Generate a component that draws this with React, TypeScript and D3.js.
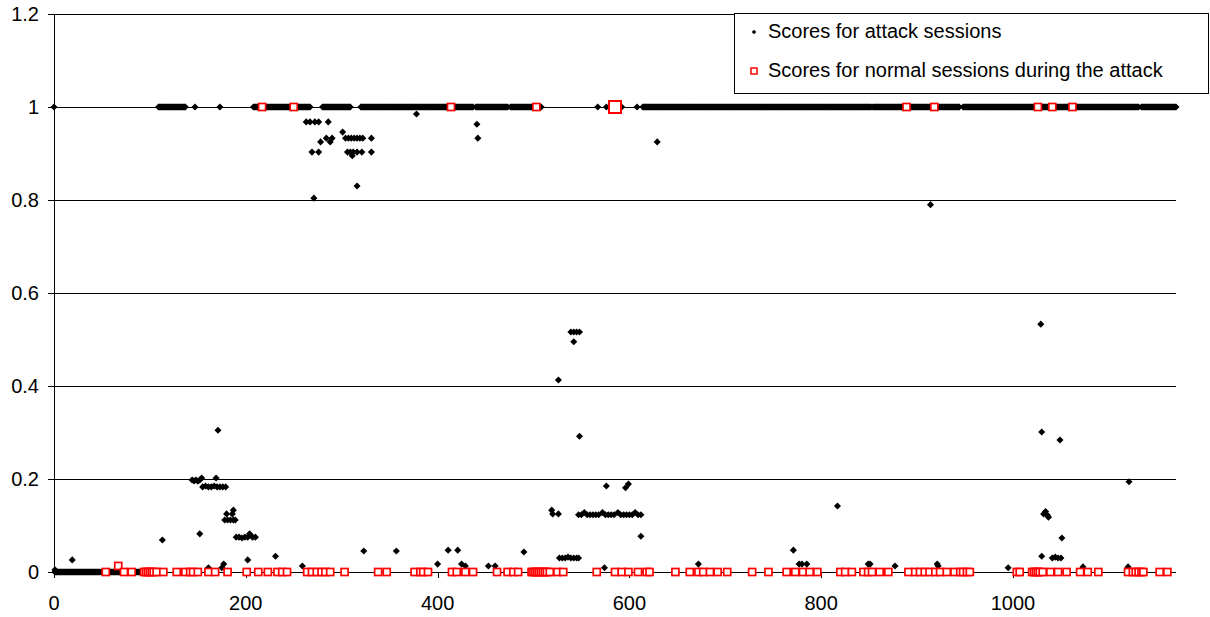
import React, { useEffect, useRef } from "react";
import * as d3 from "d3";

const xTicks = [0, 200, 400, 600, 800, 1000];
const yTicks = [0, 0.2, 0.4, 0.6, 0.8, 1, 1.2];
const seriesNames = [
  "Scores for attack sessions",
  "Scores for normal sessions during the attack",
];

// attack sessions that sit in long unbroken rows: [first session, last session, score]
const attackRuns: [number, number, number][] = [
  [1, 48, 0],
  [50, 92, 0],
  [109, 137, 1],
  [208, 267, 1],
  [280, 309, 1],
  [320, 437, 1],
  [440, 473, 1],
  [476, 508, 1],
  [614, 852, 1],
  [854, 944, 1],
  [948, 1131, 1],
  [1134, 1170, 1],
];

// attack sessions read one by one: [session, score]
const attackPoints: [number, number][] = [
  [0, 1], [147, 1], [173, 1], [567, 1], [576, 1], [592, 1], [608, 1],
  [378, 0.985], [441, 0.963], [442, 0.933], [629, 0.925],
  [263, 0.968], [267, 0.968], [272, 0.968], [276, 0.968], [286, 0.968],
  [284, 0.933], [290, 0.933], [304, 0.933], [307, 0.933], [310, 0.933], [313, 0.933],
  [316, 0.933], [319, 0.933], [322, 0.933], [331, 0.933], [301, 0.946],
  [278, 0.925], [288, 0.925],
  [269, 0.903], [276, 0.903], [306, 0.903], [309, 0.903], [312, 0.903], [316, 0.903],
  [321, 0.903], [331, 0.903], [311, 0.895], [316, 0.83], [271, 0.804],
  [914, 0.79],
  [1, 0.005], [19, 0.026], [113, 0.069], [152, 0.082], [171, 0.305],
  [144, 0.198], [146, 0.196], [148, 0.198], [150, 0.195], [152, 0.198], [154, 0.202], [169, 0.202],
  [155, 0.183], [158, 0.185], [161, 0.183], [164, 0.183], [167, 0.185], [170, 0.183],
  [173, 0.183], [176, 0.183], [179, 0.183],
  [180, 0.125], [187, 0.133], [186, 0.125], [178, 0.112], [181, 0.112], [184, 0.112],
  [187, 0.112], [189, 0.112],
  [190, 0.075], [193, 0.075], [196, 0.073], [199, 0.075], [202, 0.075], [204, 0.082],
  [207, 0.075], [210, 0.075],
  [202, 0.026], [231, 0.034], [177, 0.017], [175, 0.009], [161, 0.009], [259, 0.013],
  [323, 0.045], [357, 0.045],
  [400, 0.017], [411, 0.047], [421, 0.047], [425, 0.017], [429, 0.013], [453, 0.013],
  [460, 0.013], [490, 0.043],
  [526, 0.413], [539, 0.516], [542, 0.516], [545, 0.516], [548, 0.516], [542, 0.495],
  [548, 0.292], [576, 0.185], [599, 0.189], [596, 0.181],
  [519, 0.133], [520, 0.125], [526, 0.125],
  [547, 0.123], [550, 0.123], [553, 0.128], [556, 0.123], [559, 0.123], [562, 0.123],
  [565, 0.123], [568, 0.123], [572, 0.128], [575, 0.123], [578, 0.123], [581, 0.123],
  [584, 0.123], [588, 0.128], [591, 0.123], [594, 0.123], [597, 0.123], [600, 0.123],
  [603, 0.123], [606, 0.128], [609, 0.123], [612, 0.123],
  [612, 0.077],
  [527, 0.03], [530, 0.03], [533, 0.03], [536, 0.032], [539, 0.03], [542, 0.03],
  [545, 0.03], [547, 0.03], [574, 0.009],
  [672, 0.017], [771, 0.047], [777, 0.017], [780, 0.017], [785, 0.017], [817, 0.142],
  [849, 0.017], [851, 0.017], [877, 0.013], [921, 0.017], [922, 0.013], [995, 0.009],
  [1029, 0.533], [1030, 0.301], [1049, 0.284], [1032, 0.125], [1034, 0.13], [1036, 0.122],
  [1037, 0.118], [1051, 0.073], [1030, 0.034], [1041, 0.03], [1044, 0.032], [1047, 0.03],
  [1050, 0.03], [1073, 0.011], [1120, 0.011], [1121, 0.194],
];

// normal sessions during the attack: [session, score]
const normalPoints: [number, number][] = [
  [54, 0], [67, 0.013], [73, 0], [81, 0], [94, 0], [96, 0], [98, 0], [100, 0], [102, 0],
  [104, 0], [107, 0], [114, 0], [128, 0], [137, 0], [142, 0], [145, 0], [150, 0], [161, 0],
  [168, 0], [181, 0], [201, 0], [213, 0], [223, 0], [233, 0], [238, 0], [243, 0], [264, 0],
  [269, 0], [274, 0], [279, 0], [283, 0], [288, 0], [303, 0], [338, 0], [347, 0],
  [376, 0], [382, 0], [385, 0], [390, 0], [415, 0], [420, 0], [429, 0], [437, 0], [462, 0],
  [473, 0], [479, 0], [484, 0], [498, 0], [500, 0], [502, 0], [504, 0], [506, 0], [508, 0],
  [510, 0], [512, 0], [514, 0], [517, 0], [525, 0], [531, 0], [566, 0], [585, 0], [592, 0],
  [599, 0], [609, 0], [618, 0], [621, 0], [648, 0], [663, 0], [672, 0], [677, 0], [684, 0],
  [692, 0], [702, 0], [728, 0], [745, 0], [764, 0], [773, 0], [781, 0], [788, 0], [796, 0],
  [820, 0], [825, 0], [832, 0], [844, 0], [849, 0], [853, 0], [861, 0], [870, 0], [891, 0],
  [898, 0], [903, 0], [908, 0], [913, 0], [919, 0], [924, 0], [931, 0], [939, 0], [945, 0],
  [948, 0], [952, 0], [955, 0], [1004, 0], [1007, 0], [1020, 0], [1022, 0], [1024, 0],
  [1026, 0], [1028, 0], [1031, 0], [1039, 0], [1047, 0], [1056, 0], [1070, 0], [1078, 0],
  [1089, 0], [1120, 0], [1125, 0], [1128, 0], [1131, 0], [1134, 0], [1136, 0], [1153, 0],
  [1161, 0],
  [217, 1], [250, 1], [414, 1], [503, 1], [585, 1], [889, 1], [918, 1], [1026, 1],
  [1041, 1], [1062, 1],
];
// the one normal session drawn with an enlarged marker
const highlightedNormal = 585;

const FONT = "'Liberation Sans', Arial, sans-serif";

export default function App() {
  const ref = useRef<SVGSVGElement>(null);

  useEffect(() => {
    const svg = d3.select(ref.current);
    svg.selectAll("*").remove();

    const x = d3.scaleLinear().domain([0, 1170]).range([54, 1176]);
    const y = d3.scaleLinear().domain([0, 1.2]).range([572, 14]);
    const crisp = (v: number) => Math.round(v) + 0.5;
    const isBig = (d: [number, number]) => d[0] === highlightedNormal && d[1] === 1;

    const attack: [number, number][] = [
      ...attackRuns.flatMap(([a, b, s]) => d3.range(a, b + 1).map((i) => [i, s] as [number, number])),
      ...attackPoints,
    ];

    // gridlines
    svg.append("g")
      .selectAll("line")
      .data(yTicks.filter((t) => t > 0))
      .join("line")
      .attr("x1", x(0)).attr("x2", x.range()[1])
      .attr("y1", (d) => crisp(y(d))).attr("y2", (d) => crisp(y(d)))
      .attr("stroke", "#000").attr("shape-rendering", "crispEdges");

    // y axis
    const yAxis = svg.append("g");
    yAxis.append("line")
      .attr("x1", crisp(x(0))).attr("x2", crisp(x(0)))
      .attr("y1", y(1.2)).attr("y2", y(0))
      .attr("stroke", "#000").attr("shape-rendering", "crispEdges");
    yAxis.selectAll("line.tick")
      .data(yTicks)
      .join("line")
      .attr("class", "tick")
      .attr("x1", x(0) - 6).attr("x2", x(0))
      .attr("y1", (d) => crisp(y(d))).attr("y2", (d) => crisp(y(d)))
      .attr("stroke", "#000").attr("shape-rendering", "crispEdges");
    yAxis.selectAll("text")
      .data(yTicks)
      .join("text")
      .attr("x", 39)
      .attr("y", (d) => y(d) + 7)
      .attr("text-anchor", "end")
      .style("font-family", FONT).style("font-size", "20px")
      .text((d) => String(+d.toFixed(1)));

    // x axis
    const xAxis = svg.append("g");
    xAxis.append("line")
      .attr("x1", x(0)).attr("x2", x.range()[1])
      .attr("y1", crisp(y(0))).attr("y2", crisp(y(0)))
      .attr("stroke", "#000").attr("shape-rendering", "crispEdges");
    xAxis.selectAll("line.tick")
      .data(xTicks)
      .join("line")
      .attr("class", "tick")
      .attr("x1", (d) => crisp(x(d))).attr("x2", (d) => crisp(x(d)))
      .attr("y1", y(0)).attr("y2", y(0) + 6)
      .attr("stroke", "#000").attr("shape-rendering", "crispEdges");
    xAxis.selectAll("text")
      .data(xTicks)
      .join("text")
      .attr("x", (d) => x(d))
      .attr("y", 610)
      .attr("text-anchor", "middle")
      .style("font-family", FONT).style("font-size", "20px")
      .text((d) => String(d));

    // attack sessions: black diamonds
    const diamond = d3.symbol(d3.symbolSquare, 25)();
    svg.append("g")
      .selectAll("path")
      .data(attack)
      .join("path")
      .attr("d", diamond)
      .attr("transform", (d) => `translate(${x(d[0])},${y(d[1])}) rotate(45)`)
      .attr("fill", "#000");

    // normal sessions: red hollow squares
    svg.append("g")
      .selectAll("rect")
      .data(normalPoints)
      .join("rect")
      .attr("x", (d) => x(d[0]) - (isBig(d) ? 6 : 3.5))
      .attr("y", (d) => y(d[1]) - (isBig(d) ? 6 : 3.5))
      .attr("width", (d) => (isBig(d) ? 12 : 7))
      .attr("height", (d) => (isBig(d) ? 12 : 7))
      .attr("fill", "#fff")
      .attr("stroke", "#ff0000")
      .attr("stroke-width", (d) => (isBig(d) ? 2 : 1.7));

    // legend
    const legend = svg.append("g");
    legend.append("rect")
      .attr("x", 734.5).attr("y", 13.5)
      .attr("width", 474).attr("height", 80)
      .attr("fill", "#fff").attr("stroke", "#000");
    legend.append("path")
      .attr("d", d3.symbol(d3.symbolSquare, 10)())
      .attr("transform", "translate(754,32) rotate(45)")
      .attr("fill", "#000");
    legend.append("rect")
      .attr("x", 751).attr("y", 68).attr("width", 6).attr("height", 6)
      .attr("fill", "#fff").attr("stroke", "#ff0000").attr("stroke-width", 1.5);
    legend.selectAll("text")
      .data(seriesNames)
      .join("text")
      .attr("x", 768)
      .attr("y", (d, i) => 38 + i * 39)
      .style("font-family", FONT).style("font-size", "20px")
      .text((d) => d);
  }, []);

  return (
    <svg
      ref={ref}
      width={1210}
      height={617}
      style={{ position: "absolute", left: 0, top: 0, background: "#fff" }}
    />
  );
}
